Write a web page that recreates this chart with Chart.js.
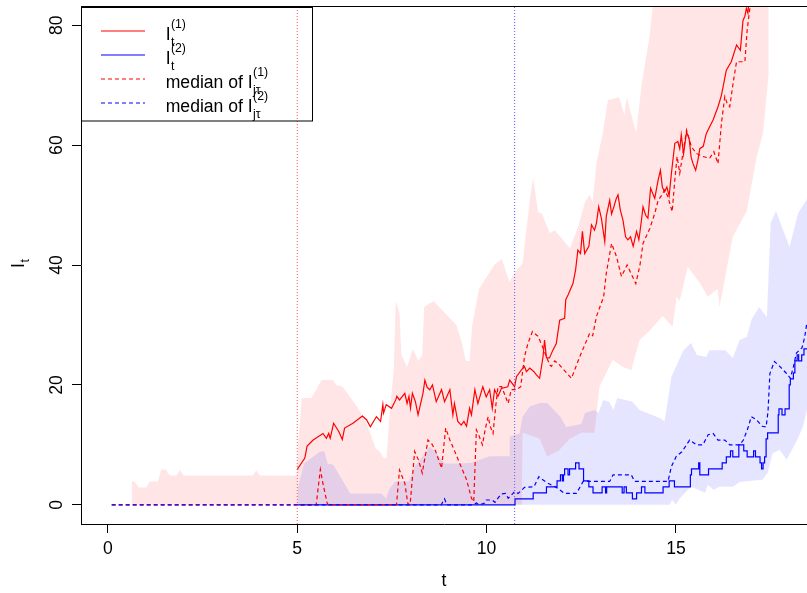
<!DOCTYPE html>
<html>
<head>
<meta charset="utf-8">
<script src="https://cdn.jsdelivr.net/npm/chart.js@4.4.0/dist/chart.umd.min.js"></script>
<style>
  html, body { margin: 0; padding: 0; background: #fff; }
  canvas { display: block; }
</style>
</head>
<body>
<canvas id="plot" width="807" height="593"></canvas>
<script>
// axis ranges and ticks
const xRange = [-0.71, 18.46];
const yRange = [-3.2, 83.2];
const xTicks = [0, 5, 10, 15];
const yTicks = [0, 20, 40, 60, 80];
const detectTimes = [5, 10.74];

// I_t^(1) : observed red epidemic
const infRed = [[5.0,5.8],[5.02,6.1],[5.2,7.8],[5.26,9.8],[5.42,10.8],[5.68,11.9],[5.77,11.1],[5.83,11.9],[5.87,11.1],[5.96,13.6],[6.1,12.2],[6.19,10.9],[6.25,12.8],[6.47,13.6],[6.72,14.8],[6.83,14.2],[6.93,13.0],[7.09,14.7],[7.2,13.9],[7.26,16.7],[7.28,15.3],[7.35,16.7],[7.49,16.1],[7.6,17.5],[7.63,18.1],[7.7,17.5],[7.84,18.6],[7.9,16.9],[7.95,18.1],[7.99,16.1],[8.04,18.6],[8.12,17.2],[8.19,15.0],[8.32,18.6],[8.37,20.8],[8.43,19.6],[8.5,19.2],[8.57,20],[8.67,17.2],[8.81,19.2],[8.89,17.2],[9.03,19.2],[9.11,15],[9.15,16.9],[9.24,13.9],[9.33,13.3],[9.4,13.9],[9.47,13.1],[9.55,16.1],[9.6,15],[9.69,19.2],[9.77,16.9],[9.9,19.7],[9.99,18.0],[10.08,19.2],[10.15,16.1],[10.21,19.2],[10.3,18.1],[10.39,19.4],[10.56,19.7],[10.61,20.8],[10.74,19.7],[10.79,21.4],[10.92,22.5],[11.0,23.1],[11.05,22.2],[11.14,22.8],[11.25,22.2],[11.31,21.7],[11.4,21.1],[11.49,24.7],[11.53,27.5],[11.58,24.5],[11.66,24.5],[11.75,25.8],[11.84,26.9],[11.93,30.8],[12.06,31.1],[12.09,34.2],[12.15,35],[12.28,36.9],[12.35,39.2],[12.41,42.5],[12.48,41.9],[12.53,45.6],[12.59,41.9],[12.7,43.1],[12.77,46.7],[12.85,45.8],[12.9,47],[12.96,49.7],[13.03,47.8],[13.12,43.9],[13.16,48.1],[13.25,50.8],[13.3,48.5],[13.36,49.7],[13.42,51],[13.47,51.7],[13.53,49.2],[13.6,47.5],[13.67,44.7],[13.73,44.2],[13.8,44.7],[13.87,43.1],[13.96,45.6],[14.02,44.2],[14.09,47.5],[14.13,49.7],[14.2,48.3],[14.26,47.8],[14.33,52.8],[14.44,51.1],[14.53,54.2],[14.59,55.8],[14.64,53],[14.7,52.2],[14.76,53],[14.82,51.5],[14.88,55.3],[14.97,60.3],[15.05,60.6],[15.1,59.4],[15.14,61.7],[15.2,58.5],[15.28,62.2],[15.35,61],[15.4,58],[15.45,56.9],[15.52,55.8],[15.58,57.5],[15.63,59.4],[15.72,59.8],[15.8,61.9],[15.87,62.8],[15.98,64.2],[16.11,66.4],[16.2,68.3],[16.33,72.5],[16.46,73.9],[16.6,76.7],[16.7,75.8],[16.77,80.8],[16.82,81.5],[16.86,82.8],[16.9,82],[16.95,86]];

// I_t^(2) : observed blue epidemic (step counts)
const infBlue = [[5,0],[10.75,1],[11.23,2],[11.58,3],[11.86,4],[11.95,5],[12.0,4],[12.03,5],[12.06,6],[12.15,5],[12.19,6],[12.35,7],[12.44,6],[12.56,4],[12.7,3],[12.81,2],[13.05,3],[13.14,2],[13.17,3],[13.58,2],[13.63,3],[13.69,2],[13.85,1],[13.96,2],[14.09,3],[14.18,2],[14.66,3],[14.82,4],[14.96,3],[15.38,5],[15.41,6],[15.6,7],[15.63,5],[15.86,6],[16.22,7],[16.33,8],[16.44,9],[16.5,8],[16.66,10],[16.79,9],[16.88,8],[17.05,9],[17.1,8],[17.22,7],[17.26,6],[17.3,7],[17.34,8],[17.38,11],[17.42,12],[17.7,15],[17.72,16],[17.8,15],[17.88,16],[17.99,20],[18.02,21],[18.1,22],[18.14,24],[18.2,25],[18.24,24],[18.32,25],[18.38,26],[18.46,26]];

// medians of the simulated paths
const medRed = [[0.1,0],[5.5,0],[5.61,5.9],[5.68,3.5],[5.79,0.3],[5.82,0],[7.62,0],[7.7,5.8],[7.84,3.6],[7.92,0.2],[7.98,0],[8.1,8.9],[8.2,7.5],[8.3,5.3],[8.41,9.2],[8.45,10.8],[8.55,10.2],[8.65,9],[8.81,6.1],[8.92,12.8],[9.03,10.8],[9.1,9.8],[9.29,6.9],[9.47,4.2],[9.6,1.1],[9.66,0.5],[9.73,12.5],[9.8,11.5],[9.89,10],[9.96,12.5],[10.04,14.7],[10.1,13],[10.17,11.9],[10.24,16.4],[10.3,19.7],[10.4,19.7],[10.5,18],[10.57,16.9],[10.65,19.2],[10.79,19.2],[10.9,19.7],[11.0,24.7],[11.09,26.9],[11.21,28.9],[11.36,28.1],[11.5,26],[11.58,24.7],[11.67,23.3],[11.71,23.1],[11.8,24],[11.9,23.5],[12.24,21.1],[12.46,24.7],[12.72,28.6],[12.8,28.2],[12.9,31.4],[13.09,34.7],[13.16,38.6],[13.3,43.6],[13.43,41.4],[13.56,38.1],[13.71,40],[13.82,38.5],[13.94,36.9],[14.05,40],[14.13,43.6],[14.31,46.1],[14.44,48.6],[14.53,50.8],[14.6,51.4],[14.7,52.5],[14.78,51.5],[14.9,48.9],[14.97,54.2],[15.03,58.1],[15.1,55.3],[15.28,62.5],[15.41,59.7],[15.54,58.6],[15.71,58.1],[15.89,57.8],[16.0,58.9],[16.11,56.9],[16.2,63.6],[16.29,68.1],[16.35,67],[16.42,66.4],[16.52,70.8],[16.6,73.9],[16.82,73.9],[16.88,79.2],[16.95,82.8],[17.0,86]];
const medBlue = [[0.1,0],[8.8,0],[8.89,1],[8.95,0],[9.64,0],[9.73,0.3],[9.8,0],[9.95,0.3],[9.99,0.8],[10.15,0.8],[10.22,0.4],[10.3,1.1],[10.39,1.8],[10.5,1.9],[10.57,1.1],[10.65,1.6],[10.74,2.2],[10.83,1.9],[10.92,2.4],[11.0,2.9],[11.25,3.0],[11.38,4.7],[11.45,4.3],[11.62,3.6],[11.84,2.9],[12.06,1.9],[12.37,1.9],[12.46,2.9],[12.55,3.9],[13.25,3.9],[13.34,5],[13.82,5],[13.91,3.9],[14.79,3.9],[14.88,6.4],[15.01,8.1],[15.15,8.8],[15.28,10],[15.36,10.8],[15.54,10],[15.71,10],[15.85,11.7],[15.98,11.9],[16.11,10.8],[16.29,10.8],[16.42,10],[16.68,10],[16.78,10.8],[16.9,12.8],[16.99,14.7],[17.12,14.2],[17.28,13.1],[17.38,13],[17.43,15.5],[17.48,21.9],[17.6,23.9],[17.74,23.1],[17.92,21.9],[18.02,21.1],[18.1,23],[18.18,25.3],[18.26,25.8],[18.33,26.2],[18.4,28],[18.46,30.5]];

// pointwise bands of the simulated paths
const bandRedHi = [[0.62,0],[0.63,3.9],[0.7,3.9],[0.82,2.9],[1.02,2.9],[1.1,3.9],[1.32,3.9],[1.41,5.9],[1.53,5.9],[1.63,4.9],[1.81,4.9],[1.9,5.8],[2.0,4.9],[3.83,4.9],[3.92,5.8],[4.01,4.9],[4.99,4.9],[5.02,10],[5.12,17.8],[5.37,17.8],[5.5,19.2],[5.64,20.8],[5.94,20.8],[6.03,20],[6.2,19.7],[6.52,16.9],[6.78,14.4],[6.96,11.4],[7.07,9.4],[7.18,8.9],[7.28,7.8],[7.36,7.8],[7.42,13.6],[7.49,18.6],[7.55,22.5],[7.6,34],[7.7,32],[7.75,25],[7.9,23],[8.05,26],[8.2,24],[8.3,25],[8.35,33],[8.6,34],[8.9,32],[9.2,30],[9.35,27],[9.45,24],[9.55,24],[9.62,30],[9.8,36],[10.0,38],[10.2,40],[10.4,41],[10.6,37.2],[10.73,38.6],[10.95,40.3],[11.14,50.8],[11.23,54.5],[11.36,48.8],[11.46,48.6],[11.67,45.3],[11.8,45.8],[12.2,42.8],[12.4,46.1],[12.6,50.5],[12.72,51.7],[12.8,50.5],[12.9,57],[13.07,62],[13.2,67.5],[13.5,68],[13.64,65],[13.7,68],[13.95,62],[14.09,70],[14.3,78],[14.5,90],[17.45,90]];
const bandRedLo = [[0.62,0],[10.93,0],[10.95,12],[11.4,11],[11.6,8],[11.9,9],[12.2,11],[12.5,12],[12.85,12],[12.98,19.7],[13.33,24.2],[13.6,23],[13.82,22.5],[14.04,27.5],[14.3,29],[14.65,31.5],[14.91,29.7],[15.02,34.7],[15.1,34],[15.31,39.7],[15.63,37],[15.84,34.7],[16.1,36],[16.15,33],[16.5,44.7],[16.87,49],[17.13,58],[17.3,62],[17.45,72]];
const bandBlueHi = [[5.0,0],[5.02,3],[5.18,6.9],[5.6,8.9],[5.72,8.9],[5.8,6.9],[5.95,6.7],[6.4,1.9],[7.22,1.9],[7.35,1.1],[7.42,2.5],[7.58,3.9],[7.94,3.9],[8.1,6.4],[8.5,9.7],[8.68,8.6],[8.89,6.9],[9.3,6.9],[9.6,7],[10.08,8.1],[10.6,8.1],[10.61,11.4],[10.87,11.9],[10.95,14.7],[11.14,16.4],[11.4,17],[11.6,17],[11.95,14.7],[12.1,13],[12.5,13.5],[12.6,15.3],[12.85,15.8],[12.95,15.3],[13.08,17.5],[13.24,17.2],[13.35,15.8],[13.45,17.8],[13.85,17.2],[14.04,15.8],[14.6,14.4],[14.7,13.9],[14.88,21.4],[15.2,25.8],[15.4,27],[15.55,25],[15.8,24.7],[15.88,25.8],[16.3,25.8],[16.5,24.5],[16.68,27.5],[16.87,28],[17.0,31],[17.2,33],[17.4,31.3],[17.5,47],[17.64,49],[18.0,43],[18.22,48.6],[18.46,51]];
const bandBlueLo = [[5,0],[14.83,0],[14.9,0.8],[15.0,0],[15.1,1.1],[15.4,3],[15.77,2],[15.84,3.3],[16.0,2.5],[16.15,3],[16.5,3],[16.68,3.8],[17.28,4.2],[17.42,5.3],[17.55,8.6],[17.74,9.2],[17.92,7.5],[18.05,9],[18.2,10.8],[18.35,13],[18.46,15.8]];

const RED = '#ff0000';
const BLUE = '#0000ff';
const FONT = '"Liberation Sans", Arial, Helvetica, sans-serif';
const fontSize = 17.6;
const smallSize = 12.3;

const pts = arr => arr.map(p => ({ x: p[0], y: p[1] }));

function lineSet(label, arr, color, dash, order, extra) {
  return Object.assign({
    label: label,
    data: pts(arr),
    borderColor: color,
    borderWidth: 1.2,
    borderDash: dash,
    pointRadius: 0,
    pointHoverRadius: 0,
    fill: false,
    tension: 0,
    order: order
  }, extra || {});
}

function edgeSet(label, arr, order, fillTo, color) {
  return {
    label: label,
    data: pts(arr),
    borderWidth: 0,
    borderColor: 'rgba(0,0,0,0)',
    backgroundColor: color,
    pointRadius: 0,
    pointHoverRadius: 0,
    fill: fillTo === null ? false : { target: fillTo },
    tension: 0,
    order: order
  };
}

// dotted verticals at the two detection times
const vlines = detectTimes.map((t, i) => ({
  label: 'detect' + i,
  data: [{ x: t, y: yRange[0] }, { x: t, y: yRange[1] }],
  borderColor: i === 0 ? '#ff5a5a' : '#5a5aff',
  borderWidth: 1,
  borderDash: [1, 2],
  pointRadius: 0,
  fill: false,
  order: 0
}));

const datasets = [
  edgeSet('bandRedLo', bandRedLo, 8, null, 'rgba(0,0,0,0)'),         // 0
  edgeSet('bandRedHi', bandRedHi, 7, 0, 'rgba(255,0,0,0.1)'),        // 1
  edgeSet('bandBlueLo', bandBlueLo, 6, null, 'rgba(0,0,0,0)'),       // 2
  edgeSet('bandBlueHi', bandBlueHi, 5, 2, 'rgba(0,0,255,0.1)'),      // 3
  lineSet('I1', infRed, RED, [], 4),
  lineSet('I2', infBlue, BLUE, [], 3, { stepped: true }),
  lineSet('med1', medRed, RED, [4, 3], 2),
  lineSet('med2', medBlue, BLUE, [4, 3], 1),
  vlines[0],
  vlines[1]
];

// text with a stacked subscript and superscript, R plotmath style
function mathText(ctx, x, base, main, sub, sup) {
  ctx.font = fontSize + 'px ' + FONT;
  ctx.textAlign = 'left';
  ctx.textBaseline = 'alphabetic';
  ctx.fillText(main, x, base);
  const x2 = x + ctx.measureText(main).width + 0.3;
  ctx.font = smallSize + 'px ' + FONT;
  if (sup) ctx.fillText(sup, x2, base - 11.5);
  if (sub) ctx.fillText(sub, x2, base + 6.5);
}

const legendItems = [
  { color: RED, dash: [], main: 'I', sub: 't', sup: '(1)' },
  { color: BLUE, dash: [], main: 'I', sub: 't', sup: '(2)' },
  { color: RED, dash: [4, 3], main: 'median of I', sub: 'j\u03c4', sup: '(1)' },
  { color: BLUE, dash: [4, 3], main: 'median of I', sub: 'j\u03c4', sup: '(2)' }
];

const decorations = {
  id: 'decorations',
  afterDraw(chart) {
    const ctx = chart.ctx;
    const area = chart.chartArea;
    const ys = chart.scales.y;
    ctx.save();
    ctx.fillStyle = '#000';
    ctx.strokeStyle = '#000';
    ctx.lineWidth = 1;

    // top frame line
    ctx.beginPath();
    ctx.moveTo(area.left, Math.round(area.top) + 0.5);
    ctx.lineTo(area.right, Math.round(area.top) + 0.5);
    ctx.stroke();

    // y tick labels, parallel to the axis
    ctx.font = fontSize + 'px ' + FONT;
    ctx.textAlign = 'center';
    ctx.textBaseline = 'alphabetic';
    ys.ticks.forEach(tk => {
      const py = ys.getPixelForValue(tk.value);
      ctx.save();
      ctx.translate(62, py);
      ctx.rotate(-Math.PI / 2);
      ctx.fillText(String(tk.value), 0, 0);
      ctx.restore();
    });

    // y axis title I_t
    ctx.save();
    ctx.translate(24, (area.top + area.bottom) / 2 + 3);
    ctx.rotate(-Math.PI / 2);
    ctx.font = fontSize + 'px ' + FONT;
    ctx.textAlign = 'left';
    ctx.fillText('I', 0, 0);
    const iw = ctx.measureText('I').width;
    ctx.font = smallSize + 'px ' + FONT;
    ctx.fillText('t', iw + 0.5, 5);
    ctx.restore();

    // legend
    ctx.strokeRect(81.5, 7.5, 231, 113.5);
    legendItems.forEach((it, i) => {
      const ly = 31 + i * 24;
      ctx.save();
      ctx.strokeStyle = it.color;
      ctx.lineWidth = 1.2;
      ctx.setLineDash(it.dash);
      ctx.beginPath();
      ctx.moveTo(101, ly);
      ctx.lineTo(145, ly);
      ctx.stroke();
      ctx.restore();
      mathText(ctx, 165.7, ly + 8.5, it.main, it.sub, it.sup);
    });
    ctx.restore();
  }
};

const axisCommon = {
  type: 'linear',
  grid: { drawOnChartArea: false, drawTicks: true, tickLength: 9, color: '#000', lineWidth: 1 },
  border: { display: true, color: '#000', width: 1 }
};

new Chart(document.getElementById('plot'), {
  type: 'line',
  data: { datasets: datasets },
  options: {
    responsive: false,
    animation: false,
    devicePixelRatio: 1,
    events: [],
    parsing: false,
    normalized: true,
    layout: { padding: { top: 6, right: 0, bottom: 0, left: 0 } },
    plugins: { legend: { display: false }, tooltip: { enabled: false } },
    scales: {
      x: Object.assign({}, axisCommon, {
        min: xRange[0],
        max: xRange[1],
        afterBuildTicks: s => { s.ticks = xTicks.map(v => ({ value: v })); },
        afterFit: s => { s.height = 69; },
        ticks: { color: '#000', font: { family: FONT, size: fontSize }, padding: 6, maxRotation: 0, autoSkip: false },
        title: { display: true, text: 't', color: '#000', font: { family: FONT, size: fontSize }, padding: { top: 0, bottom: 1 } }
      }),
      y: Object.assign({}, axisCommon, {
        min: yRange[0],
        max: yRange[1],
        afterBuildTicks: s => { s.ticks = yTicks.map(v => ({ value: v })); },
        afterFit: s => { s.width = 81; },
        ticks: { display: false }
      })
    }
  },
  plugins: [decorations]
});
</script>
</body>
</html>
